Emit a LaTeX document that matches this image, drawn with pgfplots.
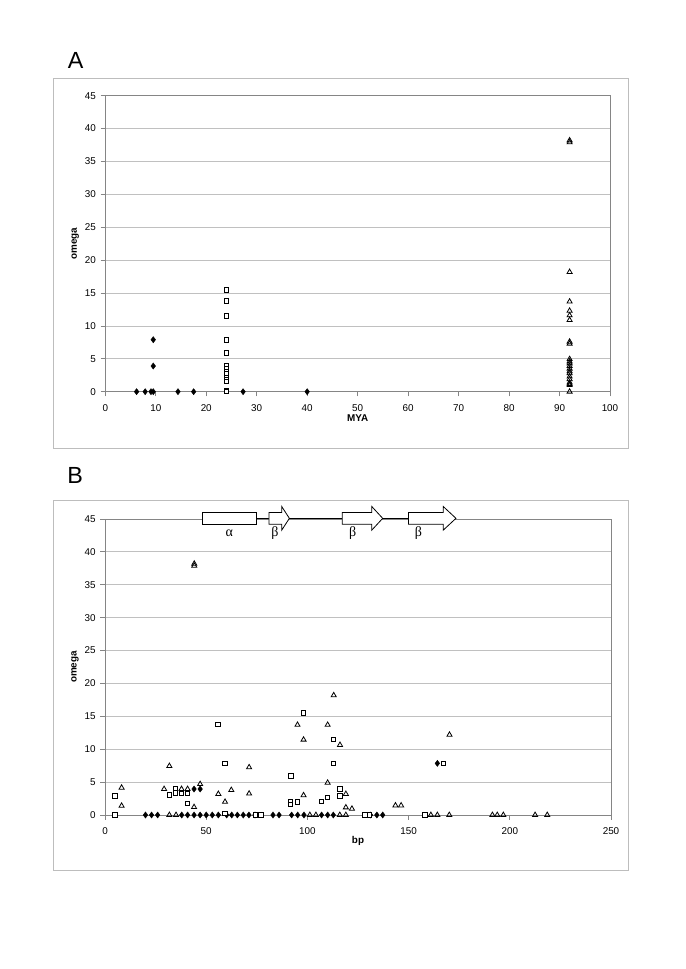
\documentclass[border=0pt]{standalone}
\usepackage{fontspec}
\setmainfont{Liberation Sans}
\newfontfamily\greekfont{Liberation Serif}
\usepackage{pgfplots}
\pgfplotsset{compat=1.18}
\definecolor{gridgray}{HTML}{C0C0C0}
\definecolor{axgray}{HTML}{858585}
\definecolor{framegray}{HTML}{BDBDBD}
\pgfplotsset{
 mystyle/.style={
  scale only axis, anchor=south west,
  ymin=0, ymax=45, ytick={0,5,...,45},
  ymajorgrids, grid style={gridgray, line width=0.6pt},
  axis line style={axgray, line width=0.6pt},
  tick style={axgray, line width=0.6pt},
  tick align=outside, major tick length=3.5pt,
  xtick pos=left, ytick pos=left,
  ticklabel style={font=\fontsize{7.4}{8}\selectfont},
  xticklabel style={yshift=-2.3pt},
  /pgf/number format/assume math mode=true,
  label style={font=\bfseries\fontsize{7.4}{8}\selectfont},
  ylabel={omega},
  ylabel style={at={(axis description cs:-0.0594,0.5)}, anchor=center},
  xlabel style={at={(axis description cs:0.5,-0.089)}, anchor=center},
  clip=false,
 },
 diam/.style={only marks, mark=diamond*, mark size=2.3pt, mark options={fill=black, draw=black, line width=0.3pt}},
 sq/.style={only marks, mark=square*, mark size=1.65pt, mark options={fill=white, draw=black, line width=0.6pt}},
 tri/.style={only marks, mark=triangle, mark size=2.2pt, mark options={draw=black, line width=0.6pt}},
}
\begin{document}
\begin{tikzpicture}
\path (0,0) rectangle (513.75pt,726.75pt);
\draw[framegray, line width=0.6pt] (40.3pt,390.75pt) rectangle (471pt,667.7pt);
\draw[framegray, line width=0.6pt] (40.3pt,74.25pt) rectangle (471pt,351.75pt);
\node[font=\fontsize{17.5}{20}\selectfont] at (56.8pt,681.2pt) {A};
\node[font=\fontsize{17.5}{20}\selectfont] at (56.3pt,370.5pt) {B};

% Panel A
\begin{axis}[mystyle, at={(78.98pt,432.98pt)}, width=378.5pt, height=222pt,
  xmin=0, xmax=100, xtick={0,10,...,100}, xlabel={MYA}]
\addplot[diam] coordinates {(6.2,0) (7.9,0) (9.05,0) (9.5,0) (14.4,0) (17.5,0) (27.3,0) (40,0) (9.5,7.9) (9.5,3.9)};
\addplot[sq] coordinates {(24,15.45) (24,13.8) (24,11.55) (24,7.9) (24,5.9) (24,4.0) (24,3.5) (24,3.1) (24,2.7) (24,2.1) (24,1.9) (24,1.6) (24,0.2) (24,0)};
\addplot[tri] coordinates {(92,38.2) (92,37.9) (92,18.2) (92,13.7) (92,12.3) (92,11.6) (92,10.9) (92,7.6) (92,7.3) (92,4.95) (92,4.6) (92,4.3) (92,3.9) (92,3.5) (92,3.1) (92,2.8) (92,2.3) (92,1.9) (92,1.4) (92,1.15) (92,1.0) (92,0)};
\end{axis}

% Panel B
\begin{axis}[mystyle, at={(78.75pt,115.5pt)}, width=379.5pt, height=222pt,
  xmin=0, xmax=250, xtick={0,50,...,250}, xlabel={bp}]
\addplot[diam] coordinates {(20,0) (23,0) (26,0) (37.9,0) (40.8,0) (44,0) (47,0) (50,0) (53,0) (56,0) (60.1,0) (62.6,0) (65.4,0) (68.3,0) (71.1,0) (74.1,0) (83,0) (86,0) (92.2,0) (95.2,0) (98.3,0) (107,0) (110,0) (112.8,0) (131.2,0) (134.3,0) (137.2,0) (44,3.95) (47,3.95) (164.2,7.85)};
\addplot[sq] coordinates {(4.8,0) (4.8,2.9) (31.8,3.05) (34.9,3.95) (34.9,3.35) (37.8,3.3) (40.8,3.3) (40.8,1.8) (55.7,13.8) (59.3,7.85) (59.3,0.25) (74.4,0) (77.1,0) (91.9,5.95) (91.7,2.1) (91.7,1.6) (95,2.0) (98,15.55) (106.8,2.1) (110,2.7) (112.8,11.5) (112.8,7.85) (116,3.95) (116,2.9) (128.5,0) (130.6,0) (158.1,0) (167.2,7.85)};
\addplot[tri] coordinates {(8.2,4.15) (8.2,1.4) (29.2,3.95) (31.8,7.45) (31.8,0) (35.1,0) (37.8,3.95) (40.8,3.95) (44,1.2) (44.1,38.2) (44.1,37.9) (47,4.7) (56,3.2) (59.3,2.0) (62.4,3.8) (71.2,7.25) (71.2,3.25) (95.1,13.7) (98.1,11.45) (98.1,3.0) (101.2,0) (104.2,0) (110,13.7) (110,4.9) (113,18.2) (116.1,10.65) (116,0) (119,3.2) (119,1.15) (119,0) (122,0.95) (143.5,1.45) (146.3,1.45) (161,0) (164.2,0) (170.1,0) (170.2,12.2) (191.4,0) (193.8,0) (196.8,0) (212.5,0) (218.5,0)};
% secondary structure annotation
\draw[black, line width=0.6pt] (axis cs:74.6,45.1) -- (axis cs:149.9,45.1);
\draw[black, fill=white, line width=0.6pt] (axis cs:48.3,44.2) rectangle (axis cs:74.6,46.0);
\draw[black, fill=white, line width=0.6pt] (axis cs:81,44.2) -- (axis cs:87.3,44.2) -- (axis cs:87.3,43.3) -- (axis cs:91.1,45.1) -- (axis cs:87.3,46.9) -- (axis cs:87.3,46.0) -- (axis cs:81,46.0) -- cycle;
\draw[black, fill=white, line width=0.6pt] (axis cs:117.2,44.2) -- (axis cs:131.8,44.2) -- (axis cs:131.8,43.3) -- (axis cs:137.2,45.1) -- (axis cs:131.8,46.9) -- (axis cs:131.8,46.0) -- (axis cs:117.2,46.0) -- cycle;
\draw[black, fill=white, line width=0.6pt] (axis cs:149.9,44.2) -- (axis cs:167.1,44.2) -- (axis cs:167.1,43.3) -- (axis cs:173.4,45.1) -- (axis cs:167.1,46.9) -- (axis cs:167.1,46.0) -- (axis cs:149.9,46.0) -- cycle;
\node[font=\greekfont\fontsize{10.5}{12}\selectfont] at (axis cs:61.4,42.8) {α};
\node[font=\greekfont\fontsize{10.5}{12}\selectfont] at (axis cs:84,42.8) {β};
\node[font=\greekfont\fontsize{10.5}{12}\selectfont] at (axis cs:122.4,42.8) {β};
\node[font=\greekfont\fontsize{10.5}{12}\selectfont] at (axis cs:154.8,42.8) {β};
\end{axis}
\end{tikzpicture}
\end{document}
